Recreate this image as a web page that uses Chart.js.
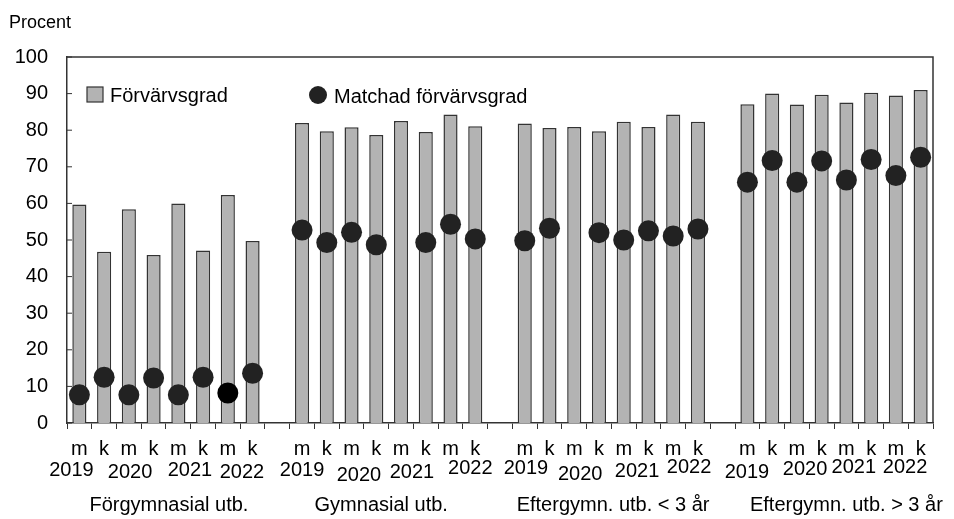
<!DOCTYPE html>
<html>
<head>
<meta charset="utf-8">
<script src="https://cdn.jsdelivr.net/npm/chart.js@4"></script>
<style>
  body { margin: 0; background: #fff; }
  #wrap { width: 954px; height: 519px; }
</style>
</head>
<body>
<div id="wrap"><canvas id="chart" width="954" height="519"></canvas></div>
<script>
// groups and periods
const groups = ["Förgymnasial utb.", "Gymnasial utb.", "Eftergymn. utb. < 3 år", "Eftergymn. utb. > 3 år"];
const years = ["2019", "2020", "2021", "2022"];
const halves = ["m", "k", "m", "k", "m", "k", "m", "k"];

// Förvärvsgrad (bars), per group
const barForgym = [59.7, 46.8, 58.4, 45.9, 60.0, 47.1, 62.3, 49.7];
const barGym = [82.0, 79.7, 80.8, 78.7, 82.5, 79.5, 84.3, 81.1];
const barEftKort = [81.8, 80.6, 80.9, 79.7, 82.3, 80.9, 84.3, 82.3];
const barEftLang = [87.1, 90.0, 87.0, 89.7, 87.6, 90.2, 89.5, 91.0];

// Matchad förvärvsgrad (dots), per group
const dotForgym = [7.7, 12.5, 7.7, 12.3, 7.7, 12.5, 8.2, 13.6];
const dotGym = [52.7, 49.3, 52.1, 48.7, null, 49.3, 54.3, 50.3];
const dotEftKort = [49.8, 53.2, null, 52.0, 50.0, 52.5, 51.1, 53.0];
const dotEftLang = [65.8, 71.7, 65.8, 71.6, 66.4, 72.0, 67.6, 72.6];

const yTicks = [0, 10, 20, 30, 40, 50, 60, 70, 80, 90, 100];

// join groups with an empty slot between them
function joinGroups(parts, gap) {
  let out = [];
  parts.forEach((p, i) => {
    if (i > 0) out.push(gap);
    out = out.concat(p);
  });
  return out;
}

const labels = joinGroups(groups.map(() => halves), "");
const bars = joinGroups([barForgym, barGym, barEftKort, barEftLang], null);
const dots = joinGroups([dotForgym, dotGym, dotEftKort, dotEftLang], null);

// label placement (in category steps from group start) - layout only
const yearPos = [
  [[-0.32, 470], [2.05, 472], [4.47, 470], [6.57, 472.5]],
  [[0.0, 470], [2.3, 475.5], [4.44, 472.5], [6.8, 468]],
  [[0.05, 468], [2.24, 474.5], [4.54, 471], [6.64, 467.5]],
  [[-0.02, 472.5], [2.33, 469], [4.3, 467.5], [6.37, 467.5]]
];
const groupPos = [3.62, 3.2, 3.57, 4.0];

const FONT = "Liberation Sans, Arial, sans-serif";
const BAR_FILL = "#b3b3b3";
const BAR_EDGE = "#333333";
const DOT = "#222222";

const extras = {
  id: "extras",
  afterDraw(chart) {
    const c = chart.ctx;
    const a = chart.chartArea;
    const x = chart.scales.x;
    const y = chart.scales.y;
    const step = x.getPixelForValue(1) - x.getPixelForValue(0);
    const x0 = x.getPixelForValue(0);

    c.save();
    // frame top / right
    c.strokeStyle = "#333";
    c.lineWidth = 1.5;
    c.beginPath();
    c.moveTo(a.left, a.top);
    c.lineTo(a.right, a.top);
    c.lineTo(a.right, a.bottom);
    c.stroke();

    // inward y ticks
    c.lineWidth = 1;
    yTicks.forEach(v => {
      const py = y.getPixelForValue(v);
      c.beginPath();
      c.moveTo(a.left, py);
      c.lineTo(a.left + 5, py);
      c.stroke();
    });

    c.fillStyle = "#000";
    c.textAlign = "center";
    c.textBaseline = "middle";
    c.font = "20px " + FONT;
    groups.forEach((g, gi) => {
      const start = gi * 9;
      yearPos[gi].forEach((p, yi) => {
        c.fillText(years[yi], x0 + (start + p[0]) * step, p[1]);
      });
      c.fillText(g, x0 + (start + groupPos[gi]) * step, 505);
    });

    // Procent
    c.textAlign = "left";
    c.font = "18px " + FONT;
    c.fillText("Procent", 9, 23);

    // legend
    c.font = "20px " + FONT;
    c.fillStyle = BAR_FILL;
    c.fillRect(a.left + 20, 87, 16, 15);
    c.strokeStyle = BAR_EDGE;
    c.lineWidth = 1.2;
    c.strokeRect(a.left + 20, 87, 16, 15);
    c.fillStyle = "#000";
    c.fillText("Förvärvsgrad", a.left + 43, 96);

    c.fillStyle = DOT;
    c.beginPath();
    c.arc(a.left + 251, 95, 9, 0, Math.PI * 2);
    c.fill();
    c.fillStyle = "#000";
    c.fillText("Matchad förvärvsgrad", a.left + 267, 97);
    c.restore();
  }
};

const dotColors = dots.map((v, i) => (i === 6 ? "#000000" : DOT));

new Chart(document.getElementById("chart"), {
  type: "bar",
  data: {
    labels: labels,
    datasets: [
      {
        type: "line",
        label: "Matchad förvärvsgrad",
        data: dots,
        showLine: false,
        pointRadius: 10.5,
        pointHoverRadius: 10.5,
        pointBackgroundColor: dotColors,
        pointBorderColor: dotColors,
        pointBorderWidth: 0,
        order: 0
      },
      {
        label: "Förvärvsgrad",
        data: bars,
        backgroundColor: BAR_FILL,
        borderColor: BAR_EDGE,
        borderWidth: 1.5,
        barPercentage: 0.57,
        categoryPercentage: 1,
        order: 1
      }
    ]
  },
  plugins: [extras],
  options: {
    responsive: false,
    devicePixelRatio: 1,
    animation: false,
    layout: { padding: { top: 57, right: 21, left: 0, bottom: 0 } },
    plugins: {
      legend: { display: false },
      tooltip: { enabled: false }
    },
    scales: {
      x: {
        offset: true,
        grid: {
          display: true,
          offset: true,
          drawOnChartArea: false,
          drawTicks: true,
          tickLength: 6,
          color: "#333"
        },
        border: { display: true, color: "#333", width: 1.5 },
        ticks: {
          color: "#000",
          font: { family: FONT, size: 20 },
          padding: 8,
          maxRotation: 0,
          autoSkip: false
        },
        afterFit(scale) { scale.height = 96; }
      },
      y: {
        min: 0,
        max: 100,
        afterBuildTicks(scale) { scale.ticks = yTicks.map(v => ({ value: v })); },
        grid: { display: false, drawTicks: false },
        border: { display: true, color: "#333", width: 1.5 },
        ticks: {
          color: "#000",
          font: { family: FONT, size: 20 },
          padding: 19
        },
        afterFit(scale) { scale.width = 67; }
      }
    }
  }
});
</script>
</body>
</html>
